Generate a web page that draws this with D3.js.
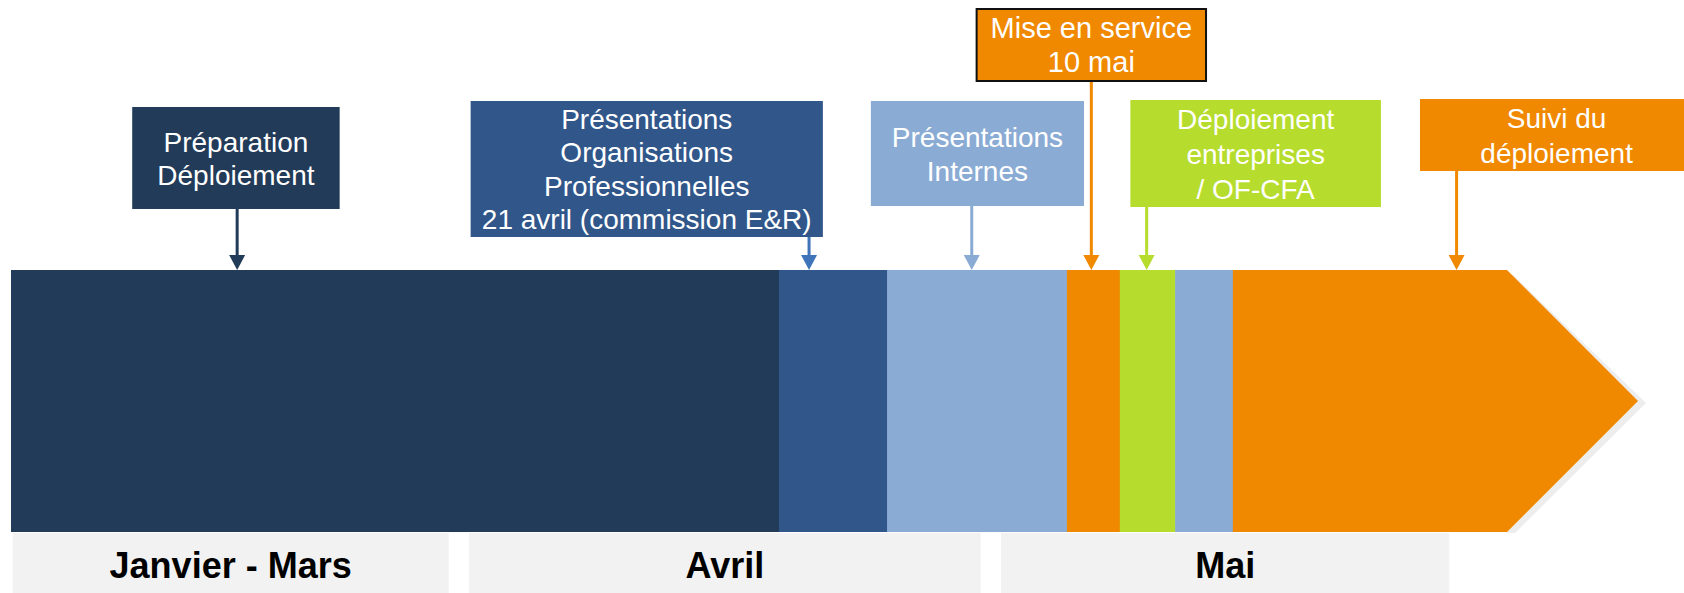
<!DOCTYPE html>
<html>
<head>
<meta charset="utf-8">
<script src="https://cdn.jsdelivr.net/npm/d3@7"></script>
<style>
  body { margin: 0; background: #fff; }
  svg { display: block; font-family: "Liberation Sans", Arial, sans-serif; }
</style>
</head>
<body>
<div id="chart"></div>
<script>
// timeline, in % of the arrow length (0 = left end, 100 = tip)
var phaseNames = ["Préparation", "Présentations OP", "Présentations Internes", "Mise en service", "Déploiement", "Internes (suite)", "Suivi"];
var phaseStart = [0, 47.2, 53.85, 64.9, 68.15, 71.55, 75.1];
var phaseEnd   = [47.2, 53.85, 64.9, 68.15, 71.55, 75.1, 100];
var phaseColor = ["#223B59", "#30568A", "#8AABD4", "#F08800", "#B6DC2D", "#8AABD4", "#F08800"];

var monthLabels = ["Janvier - Mars", "Avril", "Mai"];
var monthStart  = [0.1, 28.15, 60.85];
var monthEnd    = [26.9, 59.6, 88.4];

var calloutText = [
  ["Préparation", "Déploiement"],
  ["Présentations", "Organisations", "Professionnelles", "21 avril (commission E&R)"],
  ["Présentations", "Internes"],
  ["Mise en service", "10 mai"],
  ["Déploiement", "entreprises", "/ OF-CFA"],
  ["Suivi du", "déploiement"]
];
var calloutAt    = [13.9, 49.05, 59.05, 66.4, 69.8, 88.85];
var calloutFrom  = [7.45, 28.25, 52.85, 59.35, 68.8, 86.6];
var calloutTo    = [20.2, 49.9, 65.95, 73.45, 84.2, 103.4];

// layout of the boxes (pixels)
var boxTop    = [107, 101, 101, 9, 100, 99];
var boxBottom = [209, 237, 206, 81, 207, 171];
var boxFill   = ["#223B59", "#30568A", "#8AABD4", "#F08800", "#B6DC2D", "#F08800"];
var arrowCol  = ["#223B59", "#3F74B8", "#8AABD4", "#F08800", "#B6DC2D", "#F08800"];
var lineGap   = [33, 33.5, 34, 34, 35, 35];

var width = 1684, height = 593;
var barTop = 270, barBottom = 532, chevronLen = 131;

var svg = d3.select("#chart").append("svg")
    .attr("width", width)
    .attr("height", height);

var x = d3.scaleLinear()
    .domain([0, 100])
    .range([11, 1638]);

var mid = (barTop + barBottom) / 2;
var phases = phaseNames.map(function(d, i) {
  return {name: d, start: phaseStart[i], end: phaseEnd[i], color: phaseColor[i]};
});

// month bands
svg.append("g").selectAll("g")
  .data(monthLabels)
  .enter()
  .append("g")
  .each(function(d, i) {
    var g = d3.select(this);
    g.append("rect")
      .attr("x", x(monthStart[i]))
      .attr("y", barBottom + 1)
      .attr("width", x(monthEnd[i]) - x(monthStart[i]))
      .attr("height", height - barBottom - 1)
      .attr("fill", "#F2F2F2");
    g.append("text")
      .attr("x", (x(monthStart[i]) + x(monthEnd[i])) / 2)
      .attr("y", 578)
      .attr("text-anchor", "middle")
      .attr("font-size", 36)
      .attr("font-weight", "bold")
      .attr("fill", "#000")
      .text(d);
  });

// shadow of the arrow tip
var last = phases[phases.length - 1];
var tipX = x(last.end), baseX = tipX - chevronLen;
svg.append("path")
  .attr("d", "M" + (baseX + 5) + "," + (barTop + 4) + "L" + (tipX + 8) + "," + (mid + 2) +
        "L" + (baseX + 8) + "," + (barBottom + 1) + "L" + baseX + "," + (barBottom + 1) + "Z")
  .attr("fill", "#EDEDED");

// phases of the timeline
svg.append("g").selectAll("path")
  .data(phases)
  .enter()
  .append("path")
    .attr("fill", function(d) { return d.color; })
    .attr("d", function(d, i) {
      var x0 = x(d.start), x1 = x(d.end);
      if (i === phases.length - 1) {
        return "M" + x0 + "," + barTop + "L" + (x1 - chevronLen) + "," + barTop +
               "L" + x1 + "," + mid + "L" + (x1 - chevronLen) + "," + barBottom +
               "L" + x0 + "," + barBottom + "Z";
      }
      return "M" + x0 + "," + barTop + "H" + (x1 + 0.5) + "V" + barBottom + "H" + x0 + "Z";
    });

// callouts
var callouts = svg.append("g").selectAll("g")
  .data(calloutText)
  .enter()
  .append("g");

callouts.each(function(lines, i) {
  var g = d3.select(this);
  var ax = x(calloutAt[i]);
  var x0 = x(calloutFrom[i]), x1 = Math.min(x(calloutTo[i]), width + 10);
  g.append("line")
    .attr("x1", ax).attr("x2", ax)
    .attr("y1", boxBottom[i]).attr("y2", barTop - 12)
    .attr("stroke", arrowCol[i])
    .attr("stroke-width", 3);
  g.append("path")
    .attr("d", "M" + (ax - 8) + "," + (barTop - 15) + "L" + (ax + 8) + "," + (barTop - 15) + "L" + ax + "," + barTop + "Z")
    .attr("fill", arrowCol[i]);
  var box = g.append("rect")
    .attr("x", x0)
    .attr("y", boxTop[i])
    .attr("width", x1 - x0)
    .attr("height", boxBottom[i] - boxTop[i])
    .attr("fill", boxFill[i]);
  if (i === 3) box.attr("stroke", "#111").attr("stroke-width", 2);

  var cx = (x(calloutFrom[i]) + x(calloutTo[i])) / 2;
  var cy = (boxTop[i] + boxBottom[i]) / 2;
  var n = lines.length;
  g.append("text")
    .attr("text-anchor", "middle")
    .attr("font-size", i === 3 ? 29 : 28)
    .attr("fill", "#fff")
    .selectAll("tspan")
    .data(lines)
    .enter()
    .append("tspan")
      .attr("x", cx)
      .attr("y", function(d, k) { return cy + (k - (n - 1) / 2) * lineGap[i] + 10; })
      .text(function(d) { return d; });
});
</script>
</body>
</html>
